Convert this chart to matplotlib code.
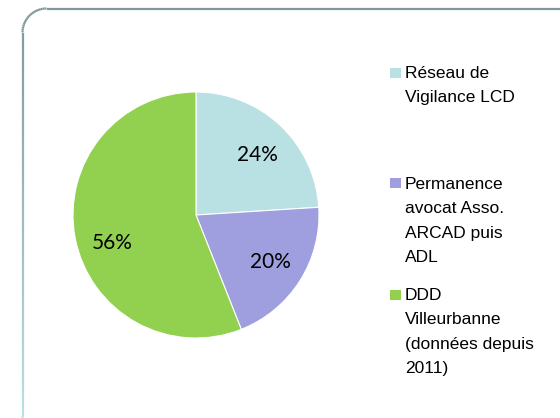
import numpy as np
import matplotlib
matplotlib.use("Agg")
import matplotlib.pyplot as plt
from matplotlib.collections import LineCollection
from matplotlib.patches import Rectangle

categories = ["Réseau de\nVigilance LCD",
              "Permanence\navocat Asso.\nARCAD puis\nADL",
              "DDD\nVilleurbanne\n(données depuis\n2011)"]
values = [24, 20, 56]
colors = ["#b9e0e3", "#9f9fdf", "#92d050"]

W, H = 560, 418
fig = plt.figure(figsize=(W / 100, H / 100), dpi=100)
fig.patch.set_facecolor("white")

def fx(x): return x / W
def fy(y): return 1 - y / H

# rounded frame with vertical colour gradient
x0, y0, y1, r = 22.5, 8.5, 440, 24
x1 = 620
pts = [(x1, y0), (x0 + r, y0)]
for a in np.linspace(90, 180, 20):
    pts.append((x0 + r + r * np.cos(np.radians(a)), y0 + r - r * np.sin(np.radians(a))))
for yy in np.linspace(y0 + r, y1 - r, 60):
    pts.append((x0, yy))
for a in np.linspace(180, 270, 20):
    pts.append((x0 + r + r * np.cos(np.radians(a)), y1 - r - r * np.sin(np.radians(a))))
pts = np.array(pts)
segs = np.stack([pts[:-1], pts[1:]], axis=1)
segs_fig = np.empty_like(segs)
segs_fig[..., 0] = segs[..., 0] / W
segs_fig[..., 1] = 1 - segs[..., 1] / H
c_top = np.array(matplotlib.colors.to_rgb("#7f9799"))
c_bot = np.array(matplotlib.colors.to_rgb("#b9e0e3"))
ymid = segs[:, :, 1].mean(axis=1)
t = np.clip((ymid - y0) / (H - y0), 0, 1)[:, None]
cols = c_top * (1 - t) + c_bot * t
lc = LineCollection(segs_fig, colors=cols, linewidths=1.6, transform=fig.transFigure)
fig.add_artist(lc)

# pie
cx, cy, R = 196, 215, 123
ax = fig.add_axes([fx(cx - R), fy(cy + R), 2 * R / W, 2 * R / H])
wedges, texts, autotexts = ax.pie(values, colors=colors, startangle=90, counterclock=False,
                                  autopct=lambda p: f"{p:.0f}%", pctdistance=0.72,
                                  wedgeprops=dict(linewidth=0.8, edgecolor="white"),
                                  textprops=dict(fontsize=15, family="Lato", color="black"))
ax.set_xlim(-1, 1)
ax.set_ylim(-1, 1)
ax.set_aspect("equal")
ax.axis("off")
autotexts[0].set_position((0.50, 0.49))
autotexts[2].set_position((-0.68, -0.23))

# legend
tops = [65, 176, 287]
line_h = 24.4
for lab, col, top in zip(categories, colors, tops):
    fig.add_artist(Rectangle((fx(390), fy(top + 12.5)), 11 / W, 10 / H, facecolor=col,
                             edgecolor="none", transform=fig.transFigure))
    for i, line in enumerate(lab.split("\n")):
        fig.text(fx(405), fy(top + 13 + i * line_h), line, ha="left", va="baseline",
                 fontsize=12.5, family="Liberation Sans", color="black")

fig.savefig("out.png", dpi=100, facecolor="white")
